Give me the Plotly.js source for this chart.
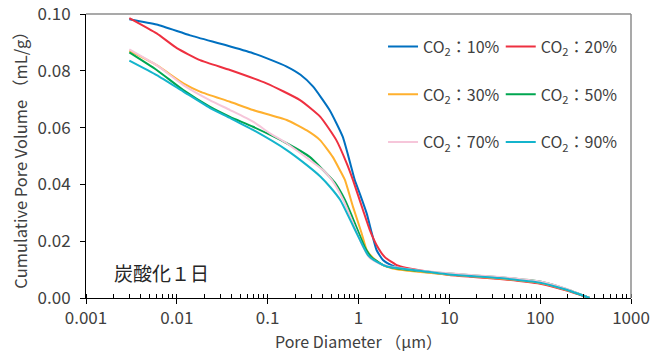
<!DOCTYPE html>
<html>
<head>
<meta charset="utf-8">
<script src="https://cdn.plot.ly/plotly-3.0.1.min.js"></script>
<style>html,body{margin:0;padding:0;background:#fff;}#chart{width:653px;height:356px;}</style>
</head>
<body>
<div id="chart"></div>
<script>
// ---- data ----
const seriesNames = ["CO<sub>2</sub>：10%", "CO<sub>2</sub>：20%", "CO<sub>2</sub>：30%", "CO<sub>2</sub>：50%", "CO<sub>2</sub>：70%", "CO<sub>2</sub>：90%"];

const d10 = [0.003, 0.006, 0.014, 0.035, 0.069, 0.1, 0.162, 0.23, 0.315, 0.48, 0.67, 0.81, 0.91, 1.04, 1.23, 1.40, 1.58, 1.86, 2.4, 3.1, 10, 36, 100, 196, 350];
const v10 = [0.0982, 0.0963, 0.0925, 0.0890, 0.0862, 0.0843, 0.0815, 0.0786, 0.0745, 0.0662, 0.0568, 0.0475, 0.0415, 0.0365, 0.0298, 0.0229, 0.0169, 0.0134, 0.0113, 0.0102, 0.0083, 0.0069, 0.0053, 0.0028, 0];

const d20 = [0.003, 0.006, 0.010, 0.018, 0.0385, 0.097, 0.227, 0.38, 0.57, 0.74, 0.87, 1.12, 1.33, 1.58, 1.95, 2.64, 3.4, 10, 36, 100, 196, 350];
const v20 = [0.0986, 0.0932, 0.0880, 0.0838, 0.0803, 0.0756, 0.0697, 0.0638, 0.0556, 0.0475, 0.0415, 0.0310, 0.0240, 0.0187, 0.0144, 0.0116, 0.0106, 0.0081, 0.0067, 0.0050, 0.0026, 0];

const d30 = [0.003, 0.006, 0.0118, 0.018, 0.0385, 0.069, 0.162, 0.27, 0.377, 0.52, 0.625, 0.71, 0.87, 1.08, 1.23, 1.45, 1.86, 2.64, 10, 36, 100, 196, 350];
const v30 = [0.0871, 0.0820, 0.0756, 0.0727, 0.0691, 0.0662, 0.0627, 0.0590, 0.0556, 0.0497, 0.0450, 0.0415, 0.0321, 0.0229, 0.0169, 0.0141, 0.0116, 0.0101, 0.0082, 0.0069, 0.0053, 0.0028, 0];

const d50 = [0.003, 0.006, 0.0118, 0.023, 0.0385, 0.069, 0.162, 0.29, 0.41, 0.55, 0.71, 0.91, 1.17, 1.38, 1.86, 2.64, 10, 36, 100, 196, 350];
const v50 = [0.0865, 0.0803, 0.0732, 0.0674, 0.0638, 0.0603, 0.0545, 0.0497, 0.0450, 0.0406, 0.0345, 0.0264, 0.0180, 0.0145, 0.0116, 0.0104, 0.0086, 0.0073, 0.0058, 0.0031, 0];

const d70 = [0.003, 0.006, 0.0118, 0.023, 0.0385, 0.069, 0.106, 0.162, 0.29, 0.41, 0.51, 0.68, 0.87, 1.12, 1.33, 1.86, 3.1, 10, 36, 100, 196, 350];
const v70 = [0.0876, 0.0820, 0.0750, 0.0697, 0.0662, 0.0621, 0.0580, 0.0545, 0.0486, 0.0450, 0.0415, 0.0345, 0.0264, 0.0180, 0.0141, 0.0116, 0.0104, 0.0087, 0.0074, 0.0058, 0.0032, 0];

const d90 = [0.003, 0.006, 0.0118, 0.023, 0.0385, 0.069, 0.162, 0.27, 0.38, 0.49, 0.63, 0.81, 1.04, 1.27, 1.58, 2.1, 3.1, 10, 36, 100, 196, 350];
const v90 = [0.0836, 0.0785, 0.0727, 0.0670, 0.0634, 0.0592, 0.0521, 0.0468, 0.0428, 0.0390, 0.0345, 0.0275, 0.0204, 0.0151, 0.0128, 0.0110, 0.0103, 0.0083, 0.0070, 0.0054, 0.0029, 0];

const xTickVals = [0.001, 0.01, 0.1, 1, 10, 100, 1000];
const xTickText = ["0.001", "0.01", "0.1", "1", "10", "100", "1000"];
const yTickVals = [0, 0.02, 0.04, 0.06, 0.08, 0.10];
const yTickText = ["0.00", "0.02", "0.04", "0.06", "0.08", "0.10"];

const colors = ["#0070C0", "#EE3040", "#FFB02E", "#00A650", "#F6C6DA", "#14B4CC"];
const FONT = "'Noto Sans CJK JP', 'Noto Sans', sans-serif";
const TXT = "#404040";

const xs = [d10, d20, d30, d50, d70, d90];
const ys = [v10, v20, v30, v50, v70, v90];
const legendFor = ["legend", "legend2", "legend", "legend2", "legend", "legend2"];

const traces = xs.map((x, i) => ({
  type: "scatter", mode: "lines",
  x: x, y: ys[i], name: seriesNames[i],
  legend: legendFor[i], legendgroup: "g" + i,
  line: {color: colors[i], width: 2, shape: "spline", smoothing: 0.5},
  hoverinfo: "skip"
}));

const legendCommon = {
  bgcolor: "rgba(0,0,0,0)", borderwidth: 0,
  font: {family: FONT, size: 16, color: TXT},
  tracegroupgap: 24, itemwidth: 30, yanchor: "top", xanchor: "left",
  orientation: "v", traceorder: "grouped"
};

const layout = {
  width: 653, height: 356,
  margin: {l: 86, r: 22, t: 14, b: 58},
  paper_bgcolor: "#fff", plot_bgcolor: "#fff",
  font: {family: FONT, size: 16, color: TXT},
  showlegend: true,
  legend: Object.assign({}, legendCommon, {x: 0.545, y: 0.945}),
  legend2: Object.assign({}, legendCommon, {x: 0.761, y: 0.945}),
  xaxis: {
    type: "log", range: [-3, 3],
    tickmode: "array", tickvals: xTickVals, ticktext: xTickText,
    ticks: "outside", ticklen: 5, tickcolor: "#000", tickwidth: 1,
    minor: {ticks: "inside", ticklen: 4, tickcolor: "#000", dtick: "D1", showgrid: false},
    showline: true, linecolor: "#000", linewidth: 1,
    showgrid: false, zeroline: false,
    tickfont: {family: FONT, size: 17, color: TXT},
    title: {text: "Pore Diameter （μm）", font: {family: FONT, size: 16, color: TXT}, standoff: 8}
  },
  yaxis: {
    range: [0, 0.10002],
    tickmode: "array", tickvals: yTickVals, ticktext: yTickText,
    ticks: "outside", ticklen: 5, tickcolor: "#000",
    ticklabelstandoff: 6,
    showline: true, linecolor: "#000", linewidth: 1,
    showgrid: false, zeroline: false,
    tickfont: {family: FONT, size: 17, color: TXT},
    title: {text: "Cumulative Pore Volume （mL/g）", font: {family: FONT, size: 16.5, color: TXT}, standoff: 5}
  },
  shapes: [
    {type: "line", xref: "paper", yref: "paper", x0: 0, x1: 1, y0: 1, y1: 1, line: {color: "#8c8c8c", width: 1.5}},
    {type: "line", xref: "paper", yref: "paper", x0: 1, x1: 1, y0: 0, y1: 1, line: {color: "#8c8c8c", width: 1.5}}
  ],
  annotations: [
    {xref: "paper", yref: "paper", x: 0.047, y: 0.09, xanchor: "left", yanchor: "middle",
     text: "炭酸化１日", showarrow: false, font: {family: FONT, size: 19, color: "#262626"}}
  ]
};

Plotly.newPlot("chart", traces, layout, {displayModeBar: false, staticPlot: true});
</script>
</body>
</html>
